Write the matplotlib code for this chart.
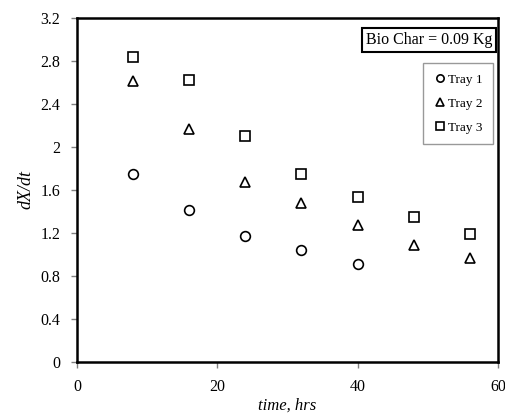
import numpy as np
import matplotlib
matplotlib.use("Agg")
import matplotlib.pyplot as plt

plt.rcParams['font.family'] = ['Liberation Serif', 'DejaVu Serif']

# --- data ---
t1 = [8, 16, 24, 32, 40]
tray1 = [1.75, 1.41, 1.17, 1.04, 0.91]
t2 = [8, 16, 24, 32, 40, 48, 56]
tray2 = [2.61, 2.17, 1.67, 1.48, 1.27, 1.09, 0.97]
t3 = [8, 16, 24, 32, 40, 48, 56]
tray3 = [2.84, 2.62, 2.10, 1.75, 1.53, 1.35, 1.19]

xticks = [0, 20, 40, 60]
yticks = [0, 0.4, 0.8, 1.2, 1.6, 2, 2.4, 2.8, 3.2]
ytick_labels = ["0", "0.4", "0.8", "1.2", "1.6", "2", "2.4", "2.8", "3.2"]

fig = plt.figure(figsize=(5.06, 4.15), dpi=100)
ax = fig.add_axes([0.152, 0.128, 0.832, 0.829])

mk = dict(linestyle='none', markerfacecolor='none', markeredgecolor='black',
          markeredgewidth=1.2, markersize=7)
ax.plot(t1, tray1, marker='o', label='Tray 1', **mk)
ax.plot(t2, tray2, marker='^', label='Tray 2', **mk)
ax.plot(t3, tray3, marker='s', label='Tray 3', **mk)

ax.set_xlim(0, 60)
ax.set_ylim(0, 3.2)
ax.set_xticks(xticks)
ax.set_yticks(yticks)
ax.set_yticklabels(ytick_labels)
ax.tick_params(direction='out', length=4, width=1, color='gray',
               labelsize=11.5, pad=8)
for s in ax.spines.values():
    s.set_linewidth(1.8)

ax.set_xlabel('time, hrs', style='italic', fontsize=12, labelpad=2)
ax.set_ylabel('dX/dt', style='italic', fontsize=13, labelpad=4)

ax.text(0.986, 0.937, 'Bio Char = 0.09 Kg', transform=ax.transAxes,
        ha='right', va='center', fontsize=11.5,
        bbox=dict(boxstyle='square,pad=0.25', facecolor='white',
                  edgecolor='black', linewidth=1.5))

leg = ax.legend(loc='upper right', bbox_to_anchor=(0.988, 0.869), fontsize=9.5,
                frameon=True, fancybox=False, handletextpad=0.1,
                handlelength=1.0, labelspacing=0.9, borderpad=0.8,
                borderaxespad=0, markerscale=0.75)
leg.get_frame().set_edgecolor('gray')
leg.get_frame().set_linewidth(1.0)

fig.savefig('out.png', dpi=100)
